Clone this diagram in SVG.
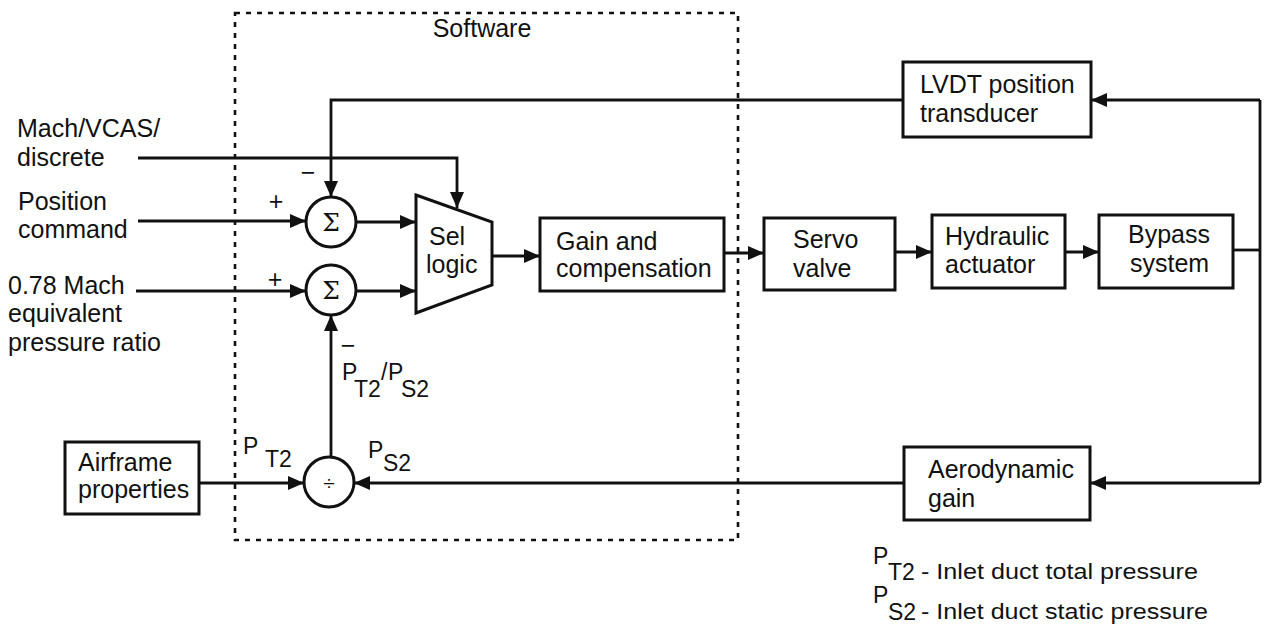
<svg xmlns="http://www.w3.org/2000/svg" width="1266" height="631" viewBox="0 0 1266 631">
<style>
text{font-family:"Liberation Sans",Arial,sans-serif;font-size:25px;fill:#111}
.box{fill:#fff;stroke:#111;stroke-width:3}
.ln{fill:none;stroke:#111;stroke-width:2.8}
.arr{marker-end:url(#ah)}
.dash{fill:none;stroke:#111;stroke-width:2.6;stroke-dasharray:5 6}
.lab{font-size:23px}
.sig{font-family:"DejaVu Serif","Liberation Serif",serif;font-size:25px}
.leg{font-size:22px}
.legs{font-size:23px}
</style>
<defs>
<marker id="ah" markerUnits="userSpaceOnUse" markerWidth="17" markerHeight="15" refX="16" refY="7" orient="auto">
<path d="M0,0 L16,7 L0,14 z" fill="#111"/>
</marker>
</defs>
<rect x="0" y="0" width="1266" height="631" fill="#fff"/>
<g id="software-boundary">
<rect class="dash" x="235" y="13" width="503" height="527"/>
<text x="482" y="37" text-anchor="middle">Software</text>
</g>
<g id="connectors">
<path class="ln arr" d="M138,158 H457 V208"/>
<path class="ln arr" d="M903,100 H331 V197"/>
<path class="ln arr" d="M138,221 H306"/>
<path class="ln arr" d="M136,291 H306"/>
<path class="ln arr" d="M356,222 H416"/>
<path class="ln arr" d="M356,291 H416"/>
<path class="ln arr" d="M331,457 V315"/>
<path class="ln arr" d="M492,256 H540"/>
<path class="ln arr" d="M724,253 H764"/>
<path class="ln arr" d="M895,252 H932"/>
<path class="ln arr" d="M1065,252 H1099"/>
<path class="ln" d="M1233,250 H1260"/>
<path class="ln arr" d="M1260,100 H1091"/>
<path class="ln" d="M1260,100 V483"/>
<path class="ln arr" d="M1260,483 H1090"/>
<path class="ln arr" d="M904,483 H354"/>
<path class="ln arr" d="M199,483 H304"/>
</g>
<g id="input-mach">
<text x="17" y="137">Mach/VCAS/</text>
<text x="17" y="166">discrete</text>
</g>
<g id="input-position">
<text x="18" y="210">Position</text>
<text x="18" y="238">command</text>
</g>
<g id="input-078">
<text x="8" y="294">0.78 Mach</text>
<text x="8" y="322">equivalent</text>
<text x="8" y="351">pressure ratio</text>
</g>
<g id="sum1">
<circle class="box" cx="331" cy="222" r="25"/>
<text class="sig" x="331" y="231" text-anchor="middle">Σ</text>
<text x="276" y="210" text-anchor="middle">+</text>
<text x="308" y="181" text-anchor="middle">−</text>
</g>
<g id="sum2">
<circle class="box" cx="331" cy="290" r="25"/>
<text class="sig" x="331" y="299" text-anchor="middle">Σ</text>
<text x="275" y="288" text-anchor="middle">+</text>
<text x="348" y="354" text-anchor="middle">−</text>
</g>
<g id="ratio-label">
<text class="lab" x="342" y="380">P</text>
<text class="lab" x="354" y="397">T2</text>
<text class="lab" x="381" y="380">/</text>
<text class="lab" x="388" y="380">P</text>
<text class="lab" x="401" y="397">S2</text>
</g>
<g id="divide">
<circle class="box" cx="329" cy="482" r="25"/>
<text x="329" y="490" text-anchor="middle" style="font-size:21px">÷</text>
<text class="lab" x="243" y="454">P</text>
<text class="lab" x="265" y="467">T2</text>
<text class="lab" x="368" y="458">P</text>
<text class="lab" x="383" y="471">S2</text>
</g>
<g id="sel-logic">
<path class="box" d="M416,195 L492,222 L492,285 L416,313 Z"/>
<text x="429" y="245">Sel</text>
<text x="426" y="273">logic</text>
</g>
<g id="gain-comp">
<rect class="box" x="540" y="218" width="184" height="73"/>
<text x="556" y="250">Gain and</text>
<text x="556" y="277">compensation</text>
</g>
<g id="servo">
<rect class="box" x="764" y="218" width="131" height="72"/>
<text x="793" y="248">Servo</text>
<text x="793" y="277">valve</text>
</g>
<g id="hydraulic">
<rect class="box" x="932" y="215" width="133" height="73"/>
<text x="945" y="245">Hydraulic</text>
<text x="945" y="273">actuator</text>
</g>
<g id="bypass">
<rect class="box" x="1099" y="215" width="134" height="73"/>
<text x="1128" y="243">Bypass</text>
<text x="1130" y="272">system</text>
</g>
<g id="lvdt">
<rect class="box" x="903" y="62" width="188" height="75"/>
<text x="920" y="93">LVDT position</text>
<text x="920" y="122">transducer</text>
</g>
<g id="aero">
<rect class="box" x="904" y="447" width="186" height="73"/>
<text x="928" y="478">Aerodynamic</text>
<text x="928" y="507">gain</text>
</g>
<g id="airframe">
<rect class="box" x="65" y="442" width="134" height="72"/>
<text x="78" y="471">Airframe</text>
<text x="78" y="498">properties</text>
</g>
<g id="legend">
<text class="legs" x="873" y="564">P</text>
<text class="legs" x="888" y="580">T2</text>
<text class="leg" x="921" y="579" textLength="277" lengthAdjust="spacingAndGlyphs">- Inlet duct total pressure</text>
<text class="legs" x="873" y="603">P</text>
<text class="legs" x="888" y="620">S2</text>
<text class="leg" x="921" y="619" textLength="287" lengthAdjust="spacingAndGlyphs">- Inlet duct static pressure</text>
</g>
</svg>
